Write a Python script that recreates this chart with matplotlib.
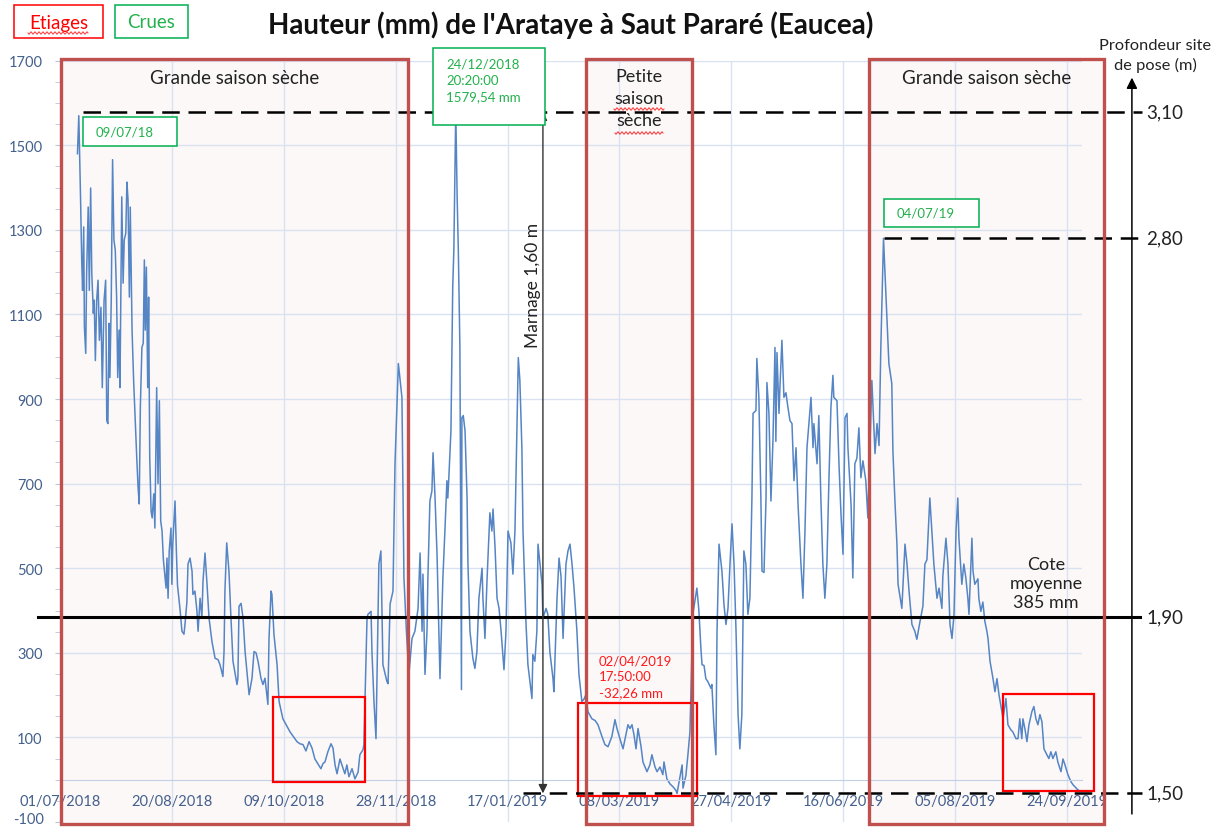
import numpy as np
import matplotlib
matplotlib.use('Agg')
import matplotlib.pyplot as plt
import matplotlib.dates as mdates
from matplotlib.patches import Rectangle
from matplotlib.ticker import MultipleLocator
from datetime import datetime, timedelta

plt.rcParams['font.family'] = ['Lato', 'DejaVu Sans']

# hauteur d'eau (mm), jours comptés depuis le 01/07/2018
jours = [7.8, 8.4, 9.2, 9.7, 10.1, 10.6, 10.9, 11.5, 11.9, 12.6, 13.1, 13.7, 14.2, 14.9, 15.3, 15.8, 16.4, 17.0,
         17.6, 18.3, 18.9, 19.7, 20.4, 20.9, 21.4, 21.9, 22.3, 22.9, 23.5, 24.1, 24.7, 25.3, 25.8, 26.4, 26.8,
         27.6, 28.2, 28.7, 29.4, 29.9, 30.4, 31.0, 31.4, 32.2, 32.9, 33.8, 34.3, 34.9, 35.4, 35.9, 36.6, 37.2,
         37.7, 38.1, 38.6, 39.2, 39.6, 40.1, 40.7, 41.2, 41.9, 42.4, 43.2, 43.8, 44.4, 45.0, 45.6, 46.2, 47.4,
         47.8, 48.3, 48.8, 49.6, 50.0, 50.4, 51.4, 52.0, 52.5, 53.6, 54.5, 55.4, 55.9, 56.7, 57.2, 58.1, 59.0,
         59.4, 60.3, 61.2, 61.7, 62.6, 63.4, 63.9, 64.8, 65.7, 66.6, 67.9, 69.3, 70.6, 71.5, 72.8, 73.3, 73.7,
         74.5, 75.5, 76.4, 77.3, 79.1, 79.5, 80.0, 80.9, 81.8, 82.7, 84.5, 85.8, 86.7, 87.6, 88.5, 89.8, 90.7,
         91.6, 92.9, 93.4, 94.3, 94.7, 95.6, 97.0, 97.9, 99.6, 102.8, 105.9, 107.2, 108.6, 109.9, 111.3, 112.6,
         113.9, 116.6, 117.5, 118.4, 119.7, 121.1, 122.0, 122.9, 123.8, 125.1, 126.0, 127.3, 128.2, 129.1,
         130.5, 131.8, 133.2, 134.0, 135.4, 135.8, 137.2, 137.6, 139.0, 139.4, 140.3, 141.2, 141.6, 142.5,
         143.4, 144.3, 146.1, 146.6, 147.5, 148.8, 149.7, 151.2, 152.8, 153.7, 154.8, 155.9, 157.3, 158.6,
         160.0, 160.9, 161.8, 162.2, 163.1, 164.0, 164.4, 165.3, 166.2, 166.7, 167.6, 168.5, 168.9, 169.8,
         170.6, 171.1, 172.0, 172.9, 173.3, 173.8, 174.7, 175.5, 176.0, 176.85, 177.5, 178.0, 178.7, 179.4,
         179.6, 180.2, 181.0, 181.9, 182.3, 183.2, 184.5, 185.4, 186.3, 187.2, 188.6, 189.0, 189.9, 190.8,
         192.1, 193.0, 193.5, 194.4, 195.3, 196.2, 197.1, 197.9, 198.4, 199.3, 200.2, 201.5, 202.4, 203.3,
         204.2, 204.8, 205.5, 206.4, 206.9, 208.2, 209.1, 210.0, 210.9, 211.3, 212.2, 213.1, 213.6, 214.5,
         215.4, 215.8, 217.2, 218.0, 218.9, 220.3, 220.7, 222.1, 223.0, 223.9, 224.8, 226.1, 227.0, 227.9,
         228.8, 229.7, 231.0, 231.9, 233.2, 234.1, 235.0, 235.9, 237.7, 239.1, 240.4, 242.2, 243.5, 244.9,
         246.6, 248.0, 248.9, 250.2, 251.6, 252.9, 253.8, 254.7, 255.6, 256.5, 257.4, 258.3, 259.6, 260.5,
         262.3, 263.6, 264.5, 265.9, 266.8, 268.1, 269.4, 269.9, 271.2, 272.6, 274.0, 275.3, 275.74, 278.0,
         278.4, 279.7, 280.6, 281.5, 282.8, 283.7, 284.6, 285.5, 286.4, 286.9, 287.8, 288.6, 289.5, 290.9,
         291.3, 292.2, 293.1, 293.6, 294.5, 295.8, 296.7, 297.6, 298.5, 299.4, 300.3, 301.2, 302.1, 303.0,
         303.8, 304.7, 305.6, 306.5, 307.4, 308.3, 309.2, 309.7, 311.0, 311.4, 312.3, 313.2, 313.7, 314.6,
         315.5, 315.9, 316.8, 317.7, 318.6, 319.5, 319.9, 320.4, 321.3, 321.7, 322.6, 323.5, 324.4, 325.3,
         326.2, 327.1, 328.0, 328.9, 329.8, 331.1, 332.0, 332.9, 333.8, 335.6, 336.5, 336.9, 338.3, 339.1,
         340.0, 340.9, 341.8, 342.7, 343.6, 344.5, 345.4, 345.8, 347.2, 348.1, 349.0, 349.9, 350.8, 351.7,
         352.1, 353.5, 354.3, 355.2, 356.1, 357.0, 357.9, 358.8, 360.1, 361.0, 362.8, 364.2, 365.1, 366.0,
         366.8, 368.0, 369.5, 370.4, 371.7, 372.2, 373.1, 374.0, 374.5, 376.2, 377.6, 378.5, 379.4, 380.7,
         382.0, 382.9, 384.3, 385.6, 386.5, 387.4, 388.7, 389.6, 390.5, 391.9, 392.8, 394.1, 394.5, 395.9,
         396.8, 397.7, 398.6, 399.5, 400.4, 401.2, 401.7, 403.0, 403.9, 404.8, 405.7, 406.2, 407.5, 408.0,
         408.8, 410.2, 410.6, 411.5, 412.4, 413.3, 414.2, 414.7, 415.6, 416.9, 417.8, 418.7, 419.6, 420.9,
         421.4, 422.7, 423.6, 424.9, 425.8, 427.2, 428.1, 428.9, 429.8, 430.3, 431.2, 432.1, 433.0, 434.3,
         435.2, 436.1, 437.0, 437.9, 438.8, 439.7, 441.0, 441.9, 442.8, 443.7, 445.0, 445.9, 447.3, 448.2,
         449.1, 450.4, 451.8, 452.7, 454.5, 455.4]
hauteur = [1480, 1570, 1371, 1229, 1157, 1307, 1070, 1008, 1198, 1354, 1157, 1399, 1198, 1103, 1134, 991, 1134, 1181,
           1039, 1117, 927, 1134, 1181, 849, 842, 1079, 951, 1134, 1466, 1276, 1252, 1141, 951, 1063, 927,
           1378, 1174, 1276, 1292, 1413, 1371, 1141, 1354, 1063, 944, 825, 761, 690, 652, 880, 1022, 1032,
           1229, 1063, 1212, 927, 1141, 761, 635, 619, 676, 595, 927, 700, 896, 612, 588, 520, 453,
           524, 429, 541, 595, 462, 557, 659, 541, 460, 405, 351, 344, 370, 420, 510, 524, 493,
           438, 446, 398, 351, 429, 382, 469, 536, 462, 382, 327, 287, 284, 272, 244, 303, 446,
           560, 493, 382, 280, 225, 240, 410, 417, 382, 303, 201, 240, 303, 300, 280, 240, 225,
           240, 178, 334, 446, 438, 344, 272, 185, 144, 113, 90, 85, 83, 68, 90, 75,
           49, 26, 38, 42, 66, 85, 75, 35, 14, 49, 35, 14, 35, 7,
           26, 2, 18, 59, 71, 83, 382, 391, 398, 303, 185, 97, 225, 510,
           541, 272, 232, 227, 415, 446, 747, 984, 904, 477, 351, 249, 334, 351,
           405, 536, 351, 486, 249, 351, 477, 659, 683, 773, 666, 530, 438, 239,
           391, 477, 588, 707, 666, 719, 825, 1165, 1252, 1579.54, 1371, 1252, 1022, 213,
           856, 861, 825, 666, 510, 351, 287, 263, 303, 429, 500, 429, 334, 469,
           631, 588, 640, 550, 429, 405, 351, 296, 260, 351, 588, 560, 486, 588,
           832, 998, 944, 785, 588, 374, 272, 232, 192, 296, 280, 351, 557, 510,
           462, 382, 405, 391, 303, 239, 208, 429, 524, 480, 334, 510, 541, 557,
           510, 453, 351, 249, 185, 190, 201, 161, 144, 140, 130, 102, 83, 78,
           102, 142, 121, 97, 73, 106, 130, 121, 130, 106, 73, 121, 80, 42,
           19, 35, 59, 30, 19, 30, 12, 42, 2, -10, -17, -26, -32.26, 35,
           -20, 10, 59, 113, 391, 422, 453, 400, 310, 272, 270, 239, 232, 216,
           225, 130, 59, 351, 557, 493, 415, 367, 405, 510, 605, 510, 351, 154,
           73, 154, 541, 510, 391, 430, 666, 866, 873, 996, 904, 666, 493, 490,
           666, 939, 866, 659, 802, 1022, 800, 1010, 866, 925, 1039, 904, 915, 880,
           849, 842, 707, 785, 652, 510, 429, 588, 785, 904, 785, 842, 747, 861,
           666, 510, 429, 510, 707, 880, 956, 904, 896, 747, 628, 533, 856, 866,
           785, 650, 477, 747, 760, 832, 714, 754, 707, 619, 944, 771, 842, 790,
           1022, 1280, 1093, 984, 937, 778, 659, 557, 462, 405, 557, 510, 446, 367,
           351, 332, 374, 410, 510, 520, 666, 588, 510, 429, 453, 405, 480, 571,
           510, 367, 334, 391, 588, 666, 571, 462, 510, 477, 429, 391, 571, 493,
           462, 475, 429, 398, 420, 374, 351, 334, 280, 240, 208, 239, 201, 161,
           144, 192, 130, 118, 113, 97, 97, 144, 97, 144, 120, 90, 130, 161,
           173, 144, 130, 154, 137, 73, 59, 50, 66, 50, 66, 42, 19, 49,
           35, 12, -5, -12, -22, -26]

debut = datetime(2018, 7, 1)
ticks_dates = [debut + timedelta(days=50 * i) for i in range(10)]
ticks_labels = [d.strftime('%d/%m/%Y') for d in ticks_dates]

# saisons sèches (jours depuis le 01/07/2018)
saisons = ['Grande saison sèche', 'Petite\nsaison\nsèche', 'Grande saison sèche']
saisons_debut = [0.45, 235.0, 361.5]
saisons_fin = [155.5, 282.4, 466.5]

# encadrés des étiages
etiages_debut = [95.2, 231.5, 421.4]
etiages_fin = [136.3, 284.6, 462.0]
etiages_bas = [-6, -39, -27]
etiages_haut = [195, 181, 202]

crue_max = 1579.54      # 24/12/2018 20:20
crue_2019 = 1280        # 04/07/2019
etiage_min = -32.26     # 02/04/2019 17:50
cote_moyenne = 385
profondeurs = ['3,10', '2,80', '1,90', '1,50']
niveaux = [crue_max, crue_2019, cote_moyenne, etiage_min]

ROUGE_SAISON = '#c0504d'
VERT = '#00b050'
BLEU_TXT = '#44608c'

t0 = mdates.date2num(debut)
x = t0 + np.array(jours)

fig = plt.figure(figsize=(12.22, 8.28), dpi=100)
W, H = 1222, 828


def fx(px):
    return px / W


def fy(py):
    return 1 - py / H


ax = fig.add_axes([fx(60), fy(823), (1082 - 60) / W, (823 - 61.7) / H])
ax.set_xlim(t0, t0 + 456.7)
ax.set_ylim(-100, 1700)

# grille
ax.set_axisbelow(True)
ax.set_xticks(mdates.date2num(ticks_dates))
ax.set_xticklabels(ticks_labels)
ax.set_yticks(np.arange(-100, 1701, 200))
ax.set_yticklabels([''] + [str(v) for v in range(100, 1701, 200)])
ax.yaxis.set_minor_locator(MultipleLocator(50))
ax.grid(True, which='major', color='#d9e2f1', lw=1.0)
ax.yaxis.get_gridlines()[0].set_visible(False)

for s in ['top', 'right']:
    ax.spines[s].set_visible(False)
ax.spines['bottom'].set_position(('data', 0))
ax.spines['bottom'].set_color('#c3cfe3')
ax.spines['left'].set_color('#c3cfe3')
ax.tick_params(axis='x', length=0, pad=10, labelsize=10.5, labelcolor=BLEU_TXT)
ax.tick_params(axis='y', which='both', length=3.5, color='#b8c4d8', pad=9,
               labelsize=10.5, labelcolor=BLEU_TXT)
# le -100 tout en bas, remonté pour rester dans l'image
fig.text(fx(43.5), fy(827.5), '-100', ha='right', va='bottom', fontsize=10.5, color=BLEU_TXT)

# saisons sèches
for nom, d0, d1 in zip(saisons, saisons_debut, saisons_fin):
    ax.add_patch(Rectangle((t0 + d0, -105), d1 - d0, 1809, facecolor='#c0504d', alpha=0.04,
                           edgecolor='none', zorder=0.2, clip_on=False))
    ax.add_patch(Rectangle((t0 + d0, -105), d1 - d0, 1809, facecolor='none',
                           edgecolor=ROUGE_SAISON, lw=2.4, zorder=5, clip_on=False))
    xm = t0 + (d0 + d1) / 2
    if '\n' in nom:
        ax.text(xm, 1683, nom, ha='center', va='top', fontsize=13, linespacing=1.45,
                color='#222222', zorder=6)
    else:
        ax.text(xm, 1660, nom, ha='center', va='center', fontsize=13.5, color='#222222', zorder=6)

# série
ax.plot(x, hauteur, color='#5585c4', lw=1.1, zorder=2)

# encadrés étiages
for d0, d1, b, h in zip(etiages_debut, etiages_fin, etiages_bas, etiages_haut):
    ax.add_patch(Rectangle((t0 + d0, b), d1 - d0, h - b, facecolor='none',
                           edgecolor='#ff0000', lw=1.6, zorder=4, clip_on=False))

# niveaux de référence
tirets = (0, (7, 3.5))
ax.plot([t0 + 10.1, t0 + 483.5], [crue_max, crue_max], ls=tirets, color='black', lw=1.8,
        clip_on=False, zorder=4)
ax.plot([t0 + 368.2, t0 + 483.5], [crue_2019, crue_2019], ls=tirets, color='black', lw=1.8,
        clip_on=False, zorder=4)
ax.plot([t0 + 206.9, t0 + 483.5], [etiage_min, etiage_min], ls=tirets, color='black', lw=1.8,
        clip_on=False, zorder=4)
ax.plot([t0 - 9.8, t0 + 482.6], [cote_moyenne, cote_moyenne], color='black', lw=2.2,
        clip_on=False, zorder=4)

# axe des profondeurs
ax.annotate('', xy=(t0 + 479, 1660), xytext=(t0 + 479, -81), annotation_clip=False,
            arrowprops=dict(arrowstyle='-|>', color='black', lw=1.1, mutation_scale=16,
                            shrinkA=0, shrinkB=0))
for lab, niv in zip(profondeurs, niveaux):
    ax.text(t0 + 485.5, niv, lab, ha='left', va='center', fontsize=13.5, color='#222222',
            clip_on=False)
fig.text(fx(1155), fy(56), 'Profondeur site\nde pose (m)', ha='center', va='center',
         fontsize=11.8, linespacing=1.35, color='#222222')

# marnage
ax.annotate('', xy=(t0 + 215.8, crue_max), xytext=(t0 + 215.8, etiage_min),
            arrowprops=dict(arrowstyle='<|-|>', color='#333333', lw=1.0, mutation_scale=13,
                            shrinkA=0, shrinkB=0), zorder=4)
ax.text(t0 + 211.3, 1172, 'Marnage 1,60 m', rotation=90, ha='center', va='center',
        fontsize=12.5, color='#222222')

ax.text(t0 + 440.6, 402, 'Cote\nmoyenne\n385 mm', ha='center', va='bottom', fontsize=13,
        linespacing=1.22, color='#222222')


# étiquettes des crues et de l'étiage
def boite(x0, y0, x1, y1, couleur):
    fig.add_artist(Rectangle((fx(x0), fy(y1)), fx(x1) - fx(x0), fy(y0) - fy(y1),
                             transform=fig.transFigure, facecolor='white', edgecolor=couleur,
                             lw=1.1, zorder=7))


boite(83, 118, 177, 147, VERT)
fig.text(fx(96), fy(132.5), '09/07/18', ha='left', va='center', fontsize=9.5, color='#22b14c', zorder=8)
boite(433, 49, 545, 126, VERT)
fig.text(fx(446), fy(81), '24/12/2018\n20:20:00\n1579,54 mm', ha='left', va='center',
         fontsize=9.5, linespacing=1.45, color='#22b14c', zorder=8)
boite(884, 200, 979, 228, VERT)
fig.text(fx(897), fy(214), '04/07/19', ha='left', va='center', fontsize=9.5, color='#22b14c', zorder=8)
fig.text(fx(599), fy(677.5), '02/04/2019\n17:50:00\n-32,26 mm', ha='left', va='center',
         fontsize=9.5, linespacing=1.4, color='#ff1a1a', zorder=8)

# légende
boite(14, 6, 103, 39, '#ff0000')
fig.text(fx(58.5), fy(23), 'Etiages', ha='center', va='center', fontsize=13.5, color='#ff0000', zorder=8)
boite(115, 6, 188, 39, VERT)
fig.text(fx(151.5), fy(23), 'Crues', ha='center', va='center', fontsize=13.5, color='#22b14c', zorder=8)


# soulignements ondulés du correcteur
def ondule(x0, x1, y):
    xs = np.linspace(x0, x1, 80)
    ys = y + 1.2 * np.sin((xs - x0) * 2 * np.pi / 4)
    fig.add_artist(plt.Line2D(fx(xs), fy(ys), transform=fig.transFigure, color='#ff3030',
                              lw=0.7, zorder=9))


ondule(28, 88, 34)
ondule(614, 664, 110)
ondule(615, 663, 134)

fig.text(fx(571), fy(25), "Hauteur (mm) de l'Arataye à Saut Pararé (Eaucea)", ha='center',
         va='center', fontsize=20, fontweight='bold', color='#111111')

fig.savefig('out.png', dpi=100)
